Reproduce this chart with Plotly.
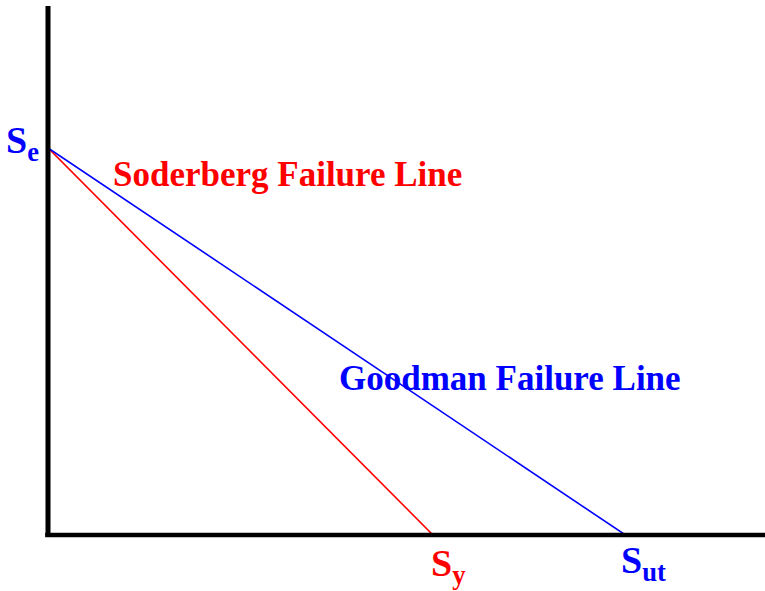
import plotly.graph_objects as go

# Fatigue strength values (arbitrary stress units)
Se = 30.0    # endurance limit
Sy = 40.0    # yield strength
Sut = 60.0   # ultimate tensile strength

x_max = 74.5
y_max = 41.0

soderberg_x = [0, Sy]
soderberg_y = [Se, 0]
goodman_x = [0, Sut]
goodman_y = [Se, 0]

RED = "#ff0000"
BLUE = "#0000ff"
FONT = "Liberation Serif"

fig = go.Figure()
fig.add_trace(go.Scatter(x=soderberg_x, y=soderberg_y, mode="lines",
                         line=dict(color=RED, width=1.6), hoverinfo="skip"))
fig.add_trace(go.Scatter(x=goodman_x, y=goodman_y, mode="lines",
                         line=dict(color=BLUE, width=1.6), hoverinfo="skip"))

# Thick black axes along the plot-area edges
fig.add_shape(type="line", x0=0, x1=0, y0=0, y1=1, xref="paper", yref="paper",
              line=dict(color="black", width=5), layer="above")
fig.add_shape(type="line", x0=-0.004, x1=1, y0=0, y1=0, xref="paper", yref="paper",
              line=dict(color="black", width=4.5), layer="above")

bold = lambda c, s: dict(family=FONT, size=s, color=c)

fig.add_annotation(x=0, y=Se, text="<b>S<sub>e</sub></b>", showarrow=False,
                   xanchor="right", yanchor="middle", xshift=-7, yshift=5,
                   font=bold(BLUE, 38))
fig.add_annotation(x=Sy, y=0, text="<b>S<sub>y</sub></b>", showarrow=False,
                   xanchor="left", yanchor="top", xshift=-4, yshift=-5,
                   font=bold(RED, 38))
fig.add_annotation(x=Sut, y=0, text="<b>S<sub>ut</sub></b>", showarrow=False,
                   xanchor="left", yanchor="top", xshift=-6, yshift=-2,
                   font=bold(BLUE, 38))

fig.add_annotation(x=6.5, y=Se * 0.932, text="<b>Soderberg Failure Line</b>",
                   showarrow=False, xanchor="left", yanchor="middle",
                   font=bold(RED, 35))
fig.add_annotation(x=30.0, y=Se * 0.405, text="<b>Goodman Failure Line</b>",
                   showarrow=False, xanchor="left", yanchor="middle",
                   font=bold(BLUE, 35))

fig.update_xaxes(range=[0, x_max], visible=False, fixedrange=True)
fig.update_yaxes(range=[0, y_max], visible=False, fixedrange=True)
fig.update_layout(width=765, height=591, showlegend=False,
                  margin=dict(l=48, r=0, t=6, b=56),
                  paper_bgcolor="white", plot_bgcolor="white")

fig.write_html("out.html")
